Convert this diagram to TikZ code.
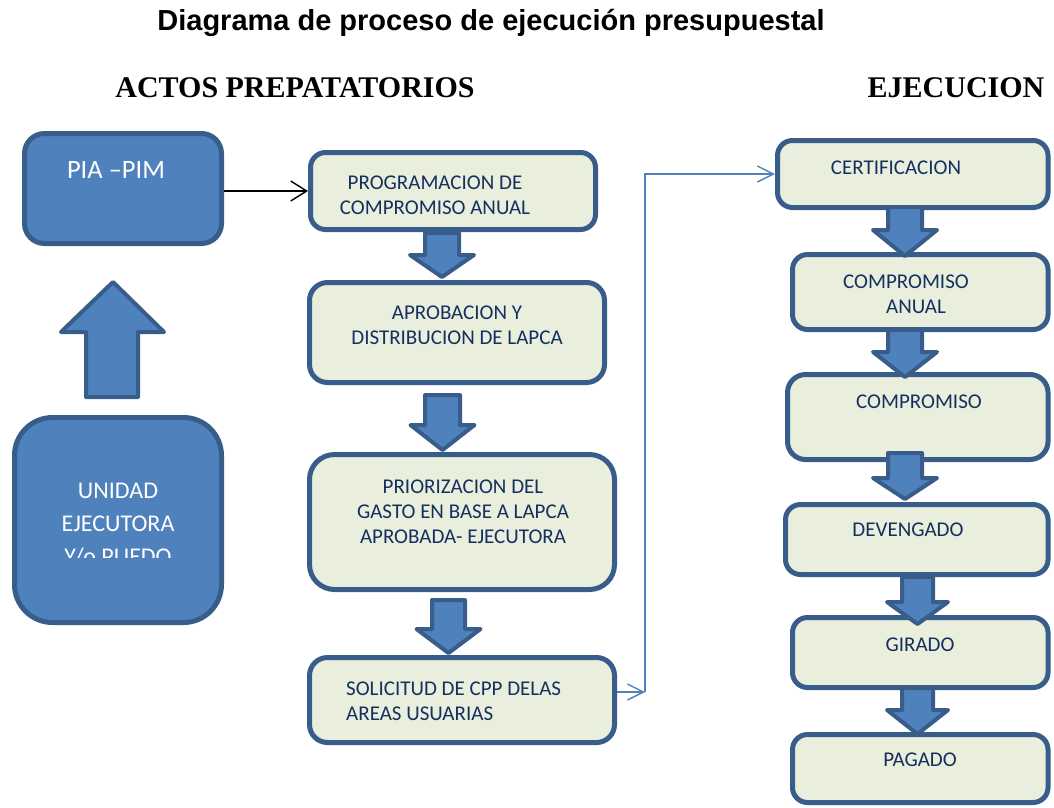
\documentclass[tikz,border=0pt]{standalone}
\usepackage{fontspec}
\setmainfont{Carlito}
\newfontfamily\titlefont{Liberation Sans}
\newfontfamily\headfont{Liberation Serif}
\usetikzlibrary{arrows.meta,fit}
\definecolor{bfill}{HTML}{4F81BD}
\definecolor{bline}{HTML}{385D8A}
\definecolor{lfill}{HTML}{EAEEDD}
\definecolor{tcol}{HTML}{14305F}
\tikzset{
  bluebox/.style={draw=bline,fill=bfill,line width=5pt,inner sep=0pt,rectangle},
  lightbox/.style={draw=bline,fill=lfill,line width=5pt,inner sep=0pt,rectangle},
  boxtext/.style={text=tcol,font=\fontsize{21}{25}\selectfont,align=center,inner sep=0pt},
  wtext/.style={text=white,font=\fontsize{24}{33}\selectfont,align=center,inner sep=0pt},
  blockarrow/.style={draw=bline,fill=bfill,line width=4pt,line join=round},
  thinblack/.style={draw=black,line width=1.4pt,-{Straight Barb[length=16pt,width=20pt,line width=1.4pt]}},
  thinblue/.style={draw=bfill,line width=1.4pt,-{Straight Barb[length=16pt,width=16pt,line width=1.4pt]}}
}
\newcommand{\myDown}[6]{% cx, shaft half, head half, top, head y, tip
  \path[blockarrow] (#1-#2,#4) -- (#1+#2,#4) -- (#1+#2,#5) -- (#1+#3,#5) -- (#1,#6) -- (#1-#3,#5) -- (#1-#2,#5) -- cycle;}
\begin{document}
\begin{tikzpicture}[x=1pt,y=-1pt]
\useasboundingbox (0,0) rectangle (1054,807);
% titles
\node[font=\titlefont\bfseries\fontsize{29}{34}\selectfont,inner sep=0pt] (title) at (491,23) {Diagrama de proceso de ejecución presupuestal};
\node[font=\headfont\bfseries\fontsize{30}{34}\selectfont,inner sep=0pt] (hact) at (295,88) {ACTOS PREPATATORIOS};
\node[font=\headfont\bfseries\fontsize{30}{34}\selectfont,inner sep=0pt] (heje) at (956,88) {EJECUCION};
% left boxes
\node[bluebox,rounded corners=20pt,fit={(24.5,133.5)(221.5,243.5)}] (pia) {};
\node[wtext,font=\fontsize{26.5}{33}\selectfont] (tpia) at (116,170) {PIA –PIM};
\node[bluebox,rounded corners=38pt,fit={(14.5,417.5)(221.5,622.5)}] (ue) {};
\node[wtext] (tue1) at (118,491) {UNIDAD};
\node[wtext] (tue2) at (118,524) {EJECUTORA};
\begin{scope}
\clip (20,540) rectangle (220,557);
\node[wtext] (tue3) at (118,557) {Y/o PUEDO};
\end{scope}
\path[blockarrow] (86,397) -- (138,397) -- (138,332) -- (164,332) -- (113,282) -- (61,332) -- (86,332) -- cycle;
% middle boxes
\node[lightbox,rounded corners=15pt,fit={(310.5,152.5)(595.5,229.5)}] (prog) {};
\node[boxtext] (tprog) at (435,195.5) {PROGRAMACION DE\\COMPROMISO ANUAL};
\node[lightbox,rounded corners=18pt,fit={(309.5,282.5)(604.5,382.5)}] (aprob) {};
\node[boxtext] (taprob) at (457,325.5) {APROBACION Y\\DISTRIBUCION DE LAPCA};
\node[lightbox,rounded corners=25pt,fit={(309.5,454.5)(614.5,589.5)}] (prio) {};
\node[boxtext] (tprio) at (463,512) {PRIORIZACION DEL\\GASTO EN BASE A LAPCA\\APROBADA- EJECUTORA};
\node[lightbox,rounded corners=18pt,fit={(309.5,657.5)(614.5,742.5)}] (sol) {};
\node[boxtext,align=left,anchor=west] (tsol) at (346,701.5) {SOLICITUD DE CPP DELAS\\AREAS USUARIAS};
% right boxes
\node[lightbox,rounded corners=15pt,fit={(777.5,140.5)(1048,207.5)}] (cert) {};
\node[boxtext] (tcert) at (896,168) {CERTIFICACION};
\node[lightbox,rounded corners=15pt,fit={(792.5,254.5)(1048,329.5)}] (ca) {};
\node[boxtext] (tca) at (906,294.5) {COMPROMISO\\\hspace*{20pt}ANUAL};
\node[lightbox,rounded corners=18pt,fit={(787.5,374.5)(1048,459.5)}] (comp) {};
\node[boxtext] (tcomp) at (919,402) {COMPROMISO};
\node[lightbox,rounded corners=15pt,fit={(785.5,504.5)(1048,574.5)}] (dev) {};
\node[boxtext] (tdev) at (908,530) {DEVENGADO};
\node[lightbox,rounded corners=15pt,fit={(792.5,617.5)(1048,687.5)}] (gir) {};
\node[boxtext] (tgir) at (920,645) {GIRADO};
\node[lightbox,rounded corners=15pt,fit={(792.5,734.5)(1048,802.5)}] (pag) {};
\node[boxtext] (tpag) at (920,760) {PAGADO};
% block arrows
\myDown{442}{17}{32}{233}{255}{277}
\myDown{442.5}{17.5}{32}{395}{425}{450}
\myDown{448.5}{16.5}{32}{600}{629}{653}
\myDown{905}{17}{32}{207}{230}{256}
\myDown{905}{17}{32}{330}{352}{377}
\myDown{905}{17}{32}{453}{478}{499}
\myDown{917.5}{15.5}{30.5}{577}{602}{624}
\myDown{917.5}{15.5}{30.5}{688}{710}{734}
% connectors
\draw[thinblack] (pia.east |- prog.west) -- (prog.west);
\coordinate (c1) at (645,692);
\draw[thinblue] (sol.east |- c1) -- (c1);
\draw[thinblue] (c1) |- (cert.west);
\end{tikzpicture}
\end{document}
